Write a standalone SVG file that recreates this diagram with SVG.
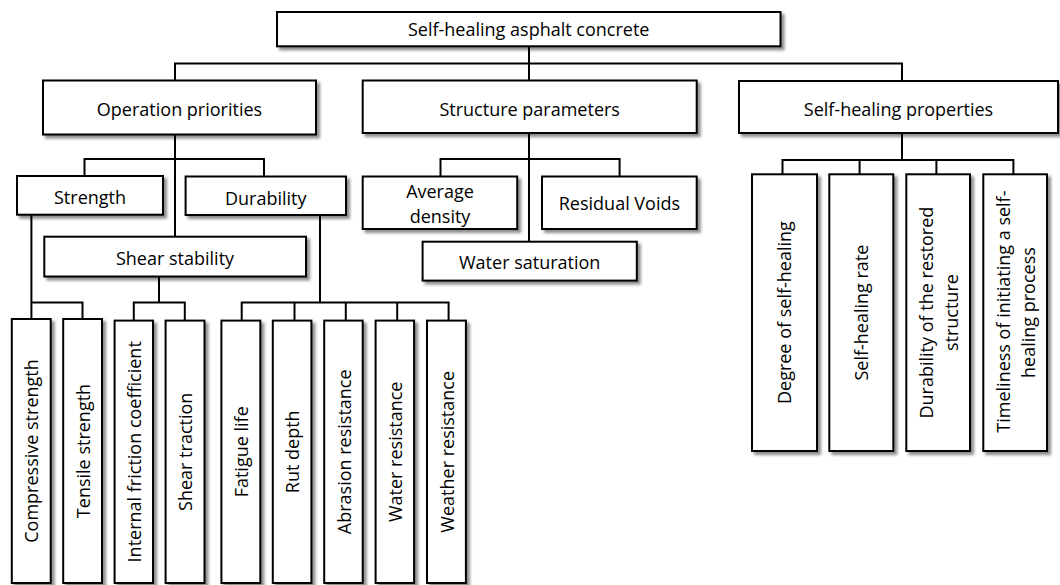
<svg xmlns="http://www.w3.org/2000/svg" width="1060" height="585" viewBox="0 0 1060 585">
  <defs>
    <filter id="sh" x="-20%" y="-20%" width="140%" height="140%">
      <feDropShadow dx="3" dy="3" stdDeviation="1.5" flood-color="#000" flood-opacity="0.45"/>
    </filter>
  </defs>
  <style>
    .box { fill: #fff; stroke: #000; stroke-width: 2; filter: url(#sh); }
    .t { font-family: "Open Sans", "Liberation Sans", sans-serif; font-size: 18px; fill: #000; text-anchor: middle; }
    .c { fill: none; stroke: #000; stroke-width: 2; stroke-linejoin: miter; }
  </style>
  <rect width="1060" height="585" fill="#fff"/>

  <g id="connectors" class="c">
    <!-- root -->
    <path d="M529,46 V63.5 M175,80.5 V63.5 H902 V81 M529,63.5 V80.5"/>
    <!-- operation priorities -->
    <path d="M175,134.5 V236.7 M84.5,176 V159 H264 V176.5"/>
    <!-- structure parameters -->
    <path d="M529,133 V241.7 M440.5,176.5 V159 H619.6 V176.5"/>
    <!-- self-healing properties -->
    <path d="M902,133 V160 M782.5,174.3 V160 H1013.4 V174.3 M859.6,160 V174.3 M936.4,160 V174.3"/>
    <!-- strength -->
    <path d="M31.4,214.7 V319 M31.4,302.6 H82.5 V319"/>
    <!-- shear stability -->
    <path d="M159,276.5 V302.6 M133.8,320.6 V302.6 H184.8 V320.6"/>
    <!-- durability -->
    <path d="M320,215 V302.6 M241.7,320.6 V302.6 H448.6 V320.6 M294.5,302.6 V320.6 M345.8,302.6 V320.6 M397.2,302.6 V320.6"/>
  </g>

  <g id="root"><rect class="box" x="277" y="12" width="503.5" height="34.3"/><text class="t" x="528.7" y="36">Self-healing asphalt concrete</text></g>

  <g id="operation-priorities"><rect class="box" x="43" y="80.5" width="273" height="54"/><text class="t" x="179.5" y="115.5">Operation priorities</text></g>
  <g id="structure-parameters"><rect class="box" x="362.7" y="80.5" width="334" height="52.5"/><text class="t" x="529.7" y="115.5">Structure parameters</text></g>
  <g id="self-healing-properties"><rect class="box" x="739" y="81" width="319" height="52"/><text class="t" x="898.5" y="116">Self-healing properties</text></g>

  <g id="strength"><rect class="box" x="17" y="176" width="146" height="38.7"/><text class="t" x="90" y="203.5">Strength</text></g>
  <g id="durability"><rect class="box" x="185.6" y="176.5" width="160.4" height="38.5"/><text class="t" x="265.8" y="204.5">Durability</text></g>
  <g id="shear-stability"><rect class="box" x="44.3" y="236.7" width="261.7" height="39.8"/><text class="t" x="175" y="265">Shear stability</text></g>

  <g id="average-density"><rect class="box" x="362.7" y="176.5" width="154.5" height="52.5"/><text class="t" x="440" y="197.5">Average</text><text class="t" x="440" y="222.5">density</text></g>
  <g id="residual-voids"><rect class="box" x="542" y="176.5" width="154.7" height="52.5"/><text class="t" x="619.4" y="210.3">Residual Voids</text></g>
  <g id="water-saturation"><rect class="box" x="422.6" y="241.7" width="214.2" height="38.9"/><text class="t" x="529.7" y="268.8">Water saturation</text></g>

  <g id="compressive-strength"><rect class="box" x="11.8" y="319" width="38.9" height="264"/><text class="t" transform="translate(38.3,451) rotate(-90)">Compressive strength</text></g>
  <g id="tensile-strength"><rect class="box" x="63.2" y="319" width="38.8" height="264"/><text class="t" transform="translate(89.6,451) rotate(-90)">Tensile strength</text></g>
  <g id="internal-friction-coefficient"><rect class="box" x="114.6" y="320.6" width="38.4" height="262.4"/><text class="t" transform="translate(140.8,451.8) rotate(-90)">Internal friction coefficient</text></g>
  <g id="shear-traction"><rect class="box" x="165.6" y="320.6" width="38.9" height="262.4"/><text class="t" transform="translate(192,451.8) rotate(-90)">Shear traction</text></g>
  <g id="fatigue-life"><rect class="box" x="221.4" y="320.6" width="38.9" height="262.4"/><text class="t" transform="translate(247.8,451.8) rotate(-90)">Fatigue life</text></g>
  <g id="rut-depth"><rect class="box" x="272.8" y="320.6" width="38.6" height="262.4"/><text class="t" transform="translate(299,451.8) rotate(-90)">Rut depth</text></g>
  <g id="abrasion-resistance"><rect class="box" x="324.2" y="320.6" width="38.5" height="262.4"/><text class="t" transform="translate(350.5,451.8) rotate(-90)">Abrasion resistance</text></g>
  <g id="water-resistance"><rect class="box" x="375.6" y="320.6" width="38.5" height="262.4"/><text class="t" transform="translate(401.8,451.8) rotate(-90)">Water resistance</text></g>
  <g id="weather-resistance"><rect class="box" x="427" y="320.6" width="38.9" height="262.4"/><text class="t" transform="translate(453.5,451.8) rotate(-90)">Weather resistance</text></g>

  <g id="degree-of-self-healing"><rect class="box" x="752" y="174.3" width="65" height="276.7"/><text class="t" transform="translate(791,312.6) rotate(-90)">Degree of self-healing</text></g>
  <g id="self-healing-rate"><rect class="box" x="829.3" y="174.3" width="64" height="276.7"/><text class="t" transform="translate(868,312.6) rotate(-90)">Self-healing rate</text></g>
  <g id="durability-restored"><rect class="box" x="906.3" y="174.3" width="63.7" height="276.7"/><text class="t" transform="translate(932.5,312.6) rotate(-90)">Durability of the restored</text><text class="t" transform="translate(957.5,312.6) rotate(-90)">structure</text></g>
  <g id="timeliness"><rect class="box" x="983.3" y="174.3" width="63.7" height="276.7"/><text class="t" transform="translate(1009.5,311.6) rotate(-90)">Timeliness of initiating a self-</text><text class="t" transform="translate(1034.5,312.6) rotate(-90)">healing process</text></g>
</svg>
